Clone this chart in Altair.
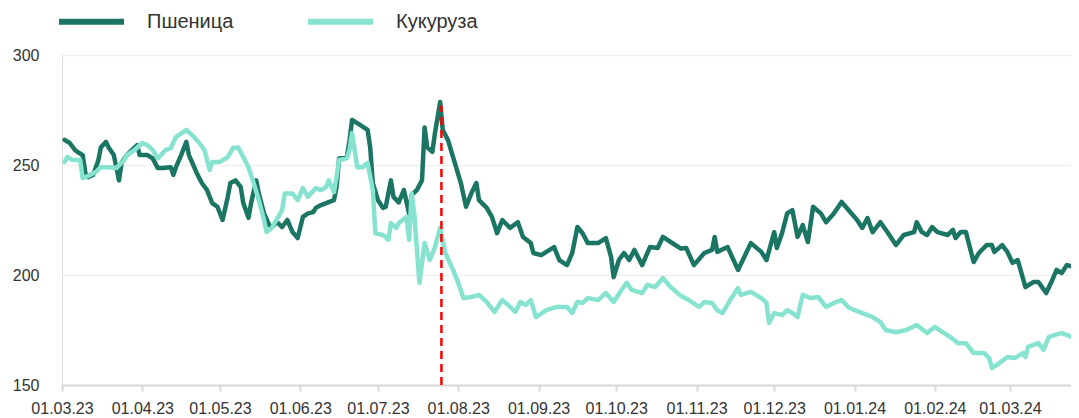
import altair as alt
import pandas as pd

# ---- data (day offsets from 01.03.2023, index values) ----
series_names = ["Пшеница", "Кукуруза"]
series_colors = ["#1b7563", "#86e3cf"]

wheat_day = [1, 3, 5, 6, 8, 9, 10, 12, 14, 15, 17, 18, 20, 22, 23, 25, 27, 29, 30, 33,
             35, 37, 39, 42, 43, 44, 46, 48, 49, 52, 54, 56, 58, 60, 62, 64, 65, 67, 69, 70,
             72, 73, 75, 76, 78, 80, 81, 83, 85, 87, 89, 91, 93, 95, 97, 98, 100, 102, 105, 106,
             107, 110, 111, 112, 114, 118, 119, 120, 122, 124, 125, 127, 128, 130, 132, 134, 135, 137, 139, 140,
             141, 143, 144, 146, 147, 149, 151, 154, 156, 158, 160, 161, 164, 166, 168, 170, 173, 176, 178, 181,
             182, 185, 187, 190, 192, 195, 197, 199, 201, 203, 207, 210, 212, 213, 215, 217, 219, 221, 224, 227,
             230, 232, 235, 239, 241, 244, 248, 251, 252, 253, 257, 261, 266, 270, 272, 275, 276, 278, 280, 282,
             284, 286, 288, 290, 293, 295, 298, 301, 303, 307, 309, 311, 313, 316, 319, 322, 325, 329, 330, 332,
             334, 336, 338, 342, 344, 345, 347, 349, 352, 354, 357, 359, 360, 363, 365, 367, 369, 372, 375, 377,
             380, 382, 384, 386, 388, 391, 392]
wheat_val = [261.4, 260, 256.8, 255.9, 254.5, 246.4, 244.5, 245.5, 252, 258, 260.5, 258, 254.5, 243, 251, 254.5, 256.8, 259, 254.5, 254.5,
             253, 248.6, 248.6, 249, 245.5, 249, 254.5, 260.5, 254.5, 246.4, 241.8, 238.6, 232.7, 231, 225, 235.5, 241.8, 243, 240, 232.7,
             226, 232.7, 243, 237, 228, 222.7, 221.8, 224, 221.8, 225, 219.5, 216.8, 226.4, 228, 228.6, 230.5, 231.8, 232.7, 234, 240,
             253, 253.6, 261, 270.5, 269, 266, 258, 241.8, 234, 230.5, 231, 243, 235.5, 233, 238.6, 228, 236.4, 238.6, 243, 267,
             258, 256, 264.5, 278.6, 266, 261.4, 253.6, 241.8, 231, 237, 241.8, 234, 230.5, 226.4, 219, 225, 221.4, 224, 217.3, 214.5,
             210, 209, 210.5, 212.7, 206.8, 204.5, 210, 221.8, 219, 214.5, 214.5, 216.8, 208.2, 199, 206.8, 210, 206.8, 211.4, 204.5, 212.7,
             212.3, 217.3, 215, 212, 212.3, 204.5, 210, 211.4, 217.3, 210.5, 212.7, 202.3, 214.5, 210.5, 206.8, 219.5, 212.3, 219, 228, 229.5,
             217.3, 222.7, 215, 231, 228, 224, 228, 233.2, 230.5, 225, 221.4, 225.9, 219.5, 224, 219, 213.6, 218.2, 219.5, 224, 219.5,
             218.2, 221.8, 219.5, 218.2, 220.5, 216.8, 219.5, 219.5, 205.9, 210, 213.6, 213.6, 210.5, 213.6, 210.5, 205.5, 206.8, 194.5, 196.8, 196.8,
             191.8, 196.8, 202.3, 200.9, 204.5, 203.6, 200]

corn_day = [1, 2, 4, 7, 8, 11, 13, 15, 18, 21, 24, 25, 28, 31, 33, 35, 37, 40, 42, 44,
            48, 51, 53, 55, 57, 58, 61, 64, 66, 68, 70, 72, 74, 76, 78, 79, 81, 85, 86, 89,
            91, 93, 95, 96, 98, 100, 102, 103, 105, 106, 107, 110, 111, 112, 114, 116, 118, 120, 121, 124,
            126, 127, 129, 130, 133, 134, 135, 136, 138, 140, 142, 144, 146, 148, 151, 153, 155, 158, 161, 164,
            167, 170, 173, 175, 177, 179, 181, 183, 187, 191, 195, 197, 199, 201, 203, 207, 210, 213, 216, 218,
            220, 224, 226, 229, 232, 235, 239, 242, 246, 248, 251, 253, 255, 258, 261, 262, 266, 270, 272, 273,
            275, 278, 280, 282, 284, 286, 289, 292, 295, 298, 301, 304, 309, 313, 316, 318, 322, 326, 330, 334,
            337, 340, 343, 346, 349, 352, 356, 358, 359, 362, 365, 368, 371, 372, 373, 377, 379, 381, 383, 386,
            390, 392]
corn_val = [251.4, 253.6, 252.3, 252.3, 244, 245.5, 246.8, 249, 249, 248.6, 252.3, 254.5, 256.8, 260, 259, 256.8, 253, 256.8, 257.7, 262.7,
            266, 262.7, 260, 256.8, 247.7, 251.4, 251.4, 253.6, 257.7, 258, 253.6, 249, 241.8, 234, 225, 219.5, 221.4, 229.5, 237, 237,
            234, 239.5, 235.5, 237, 239.5, 238.6, 240, 243, 237.7, 244.5, 252.3, 253, 256.8, 264.5, 249, 249, 251, 238.6, 219, 218.2,
            216, 223.6, 221.4, 223.6, 226.4, 216, 237, 228, 196.4, 214.5, 206.8, 212.7, 221.4, 210, 202.3, 196.4, 189.5, 190, 191, 187.7,
            183.2, 188.6, 185.5, 183.2, 187.7, 186.4, 188.6, 180.9, 184, 185.5, 185.5, 182.7, 187.7, 187.3, 189.5, 188.6, 191.8, 187.7, 193.2, 196.4,
            193.2, 191.8, 195.5, 194.5, 198.6, 194.5, 190.5, 188.6, 185.5, 187.7, 187.3, 184, 182.7, 188.6, 194, 191, 192.3, 189.5, 187.3, 178.2,
            182.7, 181.8, 184, 182.7, 180.9, 191, 189.5, 190, 185.5, 187.3, 188.6, 185, 182.7, 180.9, 178.6, 175, 174, 175, 177.3, 173.6,
            176.4, 174, 171.8, 169, 169, 164.5, 164.5, 162.3, 157.7, 160, 162.7, 162.3, 164.5, 162.7, 167.3, 169, 166, 171.8, 172.7, 173.6,
            171.8, 167.3]

event_date = ["2023-07-25T12:00:00"]
event_low = [150]
event_high = [277]

y_ticks = [150, 200, 250, 300]
x_tick_months = [(2023, m) for m in range(3, 13)] + [(2024, m) for m in range(1, 4)]

# ---- build tables ----
base = pd.Timestamp("2023-03-01")
df = pd.concat([
    pd.DataFrame({"date": base + pd.to_timedelta(wheat_day, unit="D"),
                  "value": wheat_val, "series": series_names[0], "ord": 0}),
    pd.DataFrame({"date": base + pd.to_timedelta(corn_day, unit="D"),
                  "value": corn_val, "series": series_names[1], "ord": 1}),
], ignore_index=True)
ev = pd.DataFrame({"date": pd.to_datetime(event_date), "lo": event_low, "hi": event_high})

FONT = "Liberation Sans, Arial, sans-serif"
TXT = "#333333"

x_scale = alt.Scale(domain=[alt.DateTime(year=2023, month=3, date=1),
                            alt.DateTime(year=2024, month=3, date=24, hours=14)])
y_scale = alt.Scale(domain=[150, 300], nice=False, zero=False)

x_axis = alt.Axis(
    title=None, format="%d.%m.%y", labelAngle=0,
    values=[alt.DateTime(year=y, month=m, date=1) for y, m in x_tick_months],
    grid=False, domain=True, domainColor="#d9d9d9", domainWidth=2,
    ticks=True, tickColor="#d9d9d9", tickWidth=2, tickSize=6,
    labelPadding=9, labelFontSize=16, labelFont=FONT, labelColor=TXT,
    labelOverlap=False, labelFlush=False,
)
y_axis = alt.Axis(
    title=None, values=y_ticks, grid=True, gridColor="#efefef", gridWidth=1.5,
    domain=False, ticks=False, labelPadding=23, labelFontSize=16,
    labelFont=FONT, labelColor=TXT,
)

lines = alt.Chart(df).mark_line(strokeWidth=4.5, strokeJoin="round", strokeCap="round", clip=True).encode(
    x=alt.X("date:T", scale=x_scale, axis=x_axis),
    y=alt.Y("value:Q", scale=y_scale, axis=y_axis),
    color=alt.Color("series:N", sort=series_names,
                    scale=alt.Scale(domain=series_names, range=series_colors),
                    legend=alt.Legend(title=None, orient="none", legendX=-6, legendY=-69,
                                      direction="horizontal", symbolType="stroke",
                                      symbolSize=4225, symbolStrokeWidth=6, symbolOpacity=1,
                                      labelFontSize=20, labelFont=FONT,
                                      labelColor=TXT, labelOffset=20, columnPadding=62,
                                      padding=0)),
    order=alt.Order("ord:Q"),
)

rule = alt.Chart(ev).mark_rule(color="#ff0000", strokeWidth=2.5, strokeDash=[8, 5]).encode(
    x=alt.X("date:T", scale=x_scale),
    y=alt.Y("lo:Q", scale=y_scale),
    y2="hi:Q",
)

chart = alt.layer(lines, rule).properties(
    width=1009, height=330,
    autosize=alt.AutoSizeParams(type="none"),
    padding={"left": 54, "top": 47, "right": 0, "bottom": 33},
).configure_view(stroke=None).configure(background="white")

chart.save("out.html", embed_options={"renderer": "svg", "actions": False})
